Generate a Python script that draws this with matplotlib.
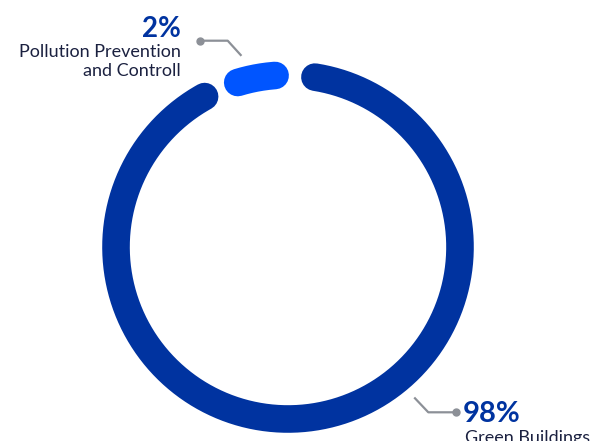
import numpy as np
import matplotlib
matplotlib.use("Agg")
import matplotlib.pyplot as plt

# shares of the portfolio (percent)
categories = ["Pollution Prevention\nand Controll", "Green Buildings"]
shares = [2, 98]
colors = ["#0055FF", "#0033A0"]
value_color = "#0033A0"
text_color = "#1B2140"
leader_color = "#8C9097"

W, H = 592, 441
fig = plt.figure(figsize=(W / 100, H / 100), dpi=100)
ax = fig.add_axes([0, 0, 1, 1])
ax.set_xlim(0, W)
ax.set_ylim(H, 0)
ax.axis("off")

# ring geometry (pixel space, angles clockwise from 12 o'clock)
cx, cy, r = 288, 247, 172
ring_lw = 27.6 * 72 / 100
gaps = [13.3, 12.0]  # gap after each segment
min_sweep = 12.7
start = -17.0

avail = 360 - sum(gaps)
sweeps = [max(s / 100 * avail, min_sweep) for s in shares]
sweeps[-1] = avail - sum(sweeps[:-1])

a = start
for sw, g, col in zip(sweeps, gaps, colors):
    th = np.radians(np.linspace(a, a + sw, 300))
    ax.plot(cx + r * np.sin(th), cy - r * np.cos(th), color=col, lw=ring_lw,
            solid_capstyle="round")
    a += sw + g

font = "Lato"

# 2% label (top left)
ax.plot([200, 227.7, 240.7], [40.7, 40.7, 55], color=leader_color, lw=1.6)
ax.plot(200, 40.7, "o", color=leader_color, ms=5)
ax.text(181, 37, f"{shares[0]}%", ha="right", va="baseline", fontsize=20,
        fontweight="bold", color=value_color, family=font)
for k, line in enumerate(categories[0].split("\n")):
    ax.text(181, 57 + 18.5 * k, line, ha="right", va="baseline", fontsize=13,
            color=text_color, family=font)

# 98% label (bottom right)
ax.plot([415, 428.3, 456], [398.3, 412.3, 412.3], color=leader_color, lw=1.6)
ax.plot(456, 412.3, "o", color=leader_color, ms=5)
ax.text(463, 422, f"{shares[1]}%", ha="left", va="baseline", fontsize=21,
        fontweight="bold", color=value_color, family=font)
ax.text(465, 443, categories[1], ha="left", va="baseline", fontsize=13,
        color=text_color, family=font)

fig.savefig("out.png", dpi=100)
